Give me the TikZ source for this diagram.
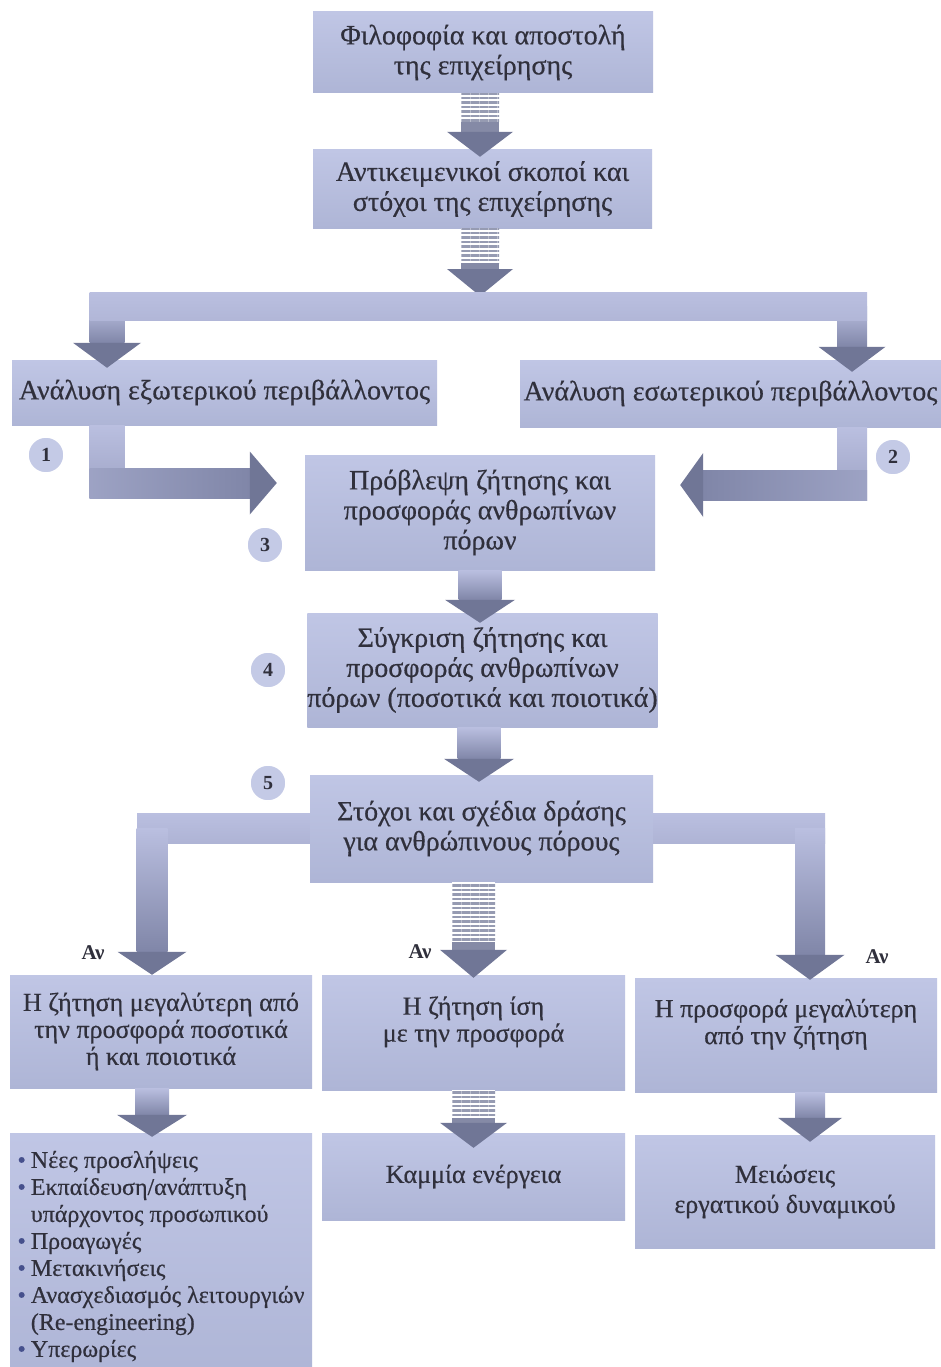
\documentclass[tikz,border=0pt]{standalone}
\usepackage{fontspec}
\setmainfont{Liberation Serif}
\newfontfamily\boxfont{Liberation Serif}[FakeBold=0.5]
\usetikzlibrary{calc,patterns.meta,backgrounds}
\definecolor{boxtop}{RGB}{192,198,229}
\definecolor{boxbot}{RGB}{174,181,214}
\definecolor{shtop}{RGB}{186,191,224}
\definecolor{shbot}{RGB}{128,134,168}
\definecolor{headc}{RGB}{112,118,150}
\definecolor{stripec}{RGB}{150,155,178}
\definecolor{txt}{RGB}{48,48,60}
\definecolor{circf}{RGB}{196,202,230}
\definecolor{bulc}{RGB}{70,80,140}
\tikzset{
 box/.style={rectangle, inner sep=0pt, top color=boxtop, bottom color=boxbot, text=txt, align=center, font=\boxfont\fontsize{28}{30}\selectfont},
 smallbox/.style={box, font=\boxfont\fontsize{26}{27}\selectfont},
 num/.style={circle, minimum size=36pt, inner sep=0pt, fill=circf, draw=white, line width=1.5pt, text=txt, font=\bfseries\fontsize{20}{20}\selectfont},
 cond/.style={text=txt, font=\bfseries\fontsize{21}{21}\selectfont, inner sep=0pt},
}
% vertical block arrow: #1 source, #2 tip, #3 half shaft, #4 half head, #5 head length
\newcommand\VArrow[5]{%
 \shade[top color=shtop,bottom color=shbot] let \p1=(#1),\p2=(#2) in (\x2-#3,\y1) rectangle (\x2+#3,\y2+#5);
 \fill[headc] let \p2=(#2) in (\x2,\y2) -- (\x2-#4,\y2+#5) -- (\x2+#4,\y2+#5) -- cycle;}
% striped block arrow: #6 solid length
\newcommand\SArrow[6]{%
 \fill[white] let \p1=(#1),\p2=(#2) in (\x2-#3,\y1) rectangle (\x2+#3,\y2+#5+#6);
 \path[pattern={Lines[angle=0,distance=4.5pt,line width=2.4pt]}, pattern color=stripec] let \p1=(#1),\p2=(#2) in (\x2-#3,\y1) rectangle (\x2+#3,\y2+#5+#6);
 \fill[headc!85!white] let \p2=(#2) in (\x2-#3,\y2+#5) rectangle (\x2+#3,\y2+#5+#6);
 \fill[headc] let \p2=(#2) in (\x2,\y2) -- (\x2-#4,\y2+#5) -- (\x2+#4,\y2+#5) -- cycle;}
\begin{document}
\begin{tikzpicture}[x=1pt,y=-1pt]
\useasboundingbox (0,0) rectangle (941,1367);
\clip (0,0) rectangle (941,1367);
% boxes
\node[box, minimum width=340pt, minimum height=81pt] (b1) at (483,52.5) {Φιλοφοφία και αποστολή\\της επιχείρησης};
\node[box, minimum width=339pt, minimum height=78pt] (b2) at (482.5,189) {Αντικειμενικοί σκοποί και\\στόχοι της επιχείρησης};
\node[box, minimum width=425pt, minimum height=65pt] (b3L) at (224.5,392.5) {Ανάλυση εξωτερικού περιβάλλοντος};
\node[box, minimum width=421pt, minimum height=67pt] (b3R) at (730.5,393.5) {Ανάλυση εσωτερικού περιβάλλοντος};
\node[box, minimum width=350pt, minimum height=115pt] (b4) at (480,512.5) {Πρόβλεψη ζήτησης και\\προσφοράς ανθρωπίνων\\πόρων};
\node[box, minimum width=345pt, minimum height=114pt] (b5) at (482.5,670) {Σύγκριση ζήτησης και\\προσφοράς ανθρωπίνων\\πόρων (ποσοτικά και ποιοτικά)};
\node[box, minimum width=343pt, minimum height=107pt] (b6) at (481.5,828.5) {Στόχοι και σχέδια δράσης\\για ανθρώπινους πόρους};
\node[smallbox, minimum width=302pt, minimum height=113pt] (b7L) at (161,1031.5) {Η ζήτηση μεγαλύτερη από\\την προσφορά ποσοτικά\\ή και ποιοτικά};
\node[smallbox, minimum width=303pt, minimum height=115pt] (b7M) at (473.5,1032.5) {Η ζήτηση ίση\\με την προσφορά\\\mbox{}};
\node[smallbox, minimum width=302pt, minimum height=114pt] (b7R) at (786,1035) {Η προσφορά μεγαλύτερη\\από την ζήτηση\\\mbox{}};
\node[smallbox, minimum width=302pt, minimum height=248pt, align=left, font=\boxfont\fontsize{24}{27}\selectfont] (b8L) at (161,1257) {%
\begin{tabular}{@{}l@{\hspace{5pt}}l@{}}
\textcolor{bulc}{•} & Νέες προσλήψεις\\
\textcolor{bulc}{•} & Εκπαίδευση/ανάπτυξη\\
 & υπάρχοντος προσωπικού\\
\textcolor{bulc}{•} & Προαγωγές\\
\textcolor{bulc}{•} & Μετακινήσεις\\
\textcolor{bulc}{•} & Ανασχεδιασμός λειτουργιών\\
 & (Re-engineering)\\
\textcolor{bulc}{•} & Υπερωρίες
\end{tabular}};
\node[smallbox, minimum width=303pt, minimum height=87pt] (b8M) at (473.5,1176.5) {Καμμία ενέργεια};
\node[smallbox, minimum width=300pt, minimum height=113pt, font=\boxfont\fontsize{26}{30}\selectfont] (b8R) at (785,1191.5) {Μειώσεις\\εργατικού δυναμικού};
% junction coordinates
\coordinate (jT) at (480,296);
\coordinate (jL) at (107,306);
\coordinate (jR) at (852,306);
\coordinate (jL2) at (152,828);
\coordinate (jR2) at (810,828);
% white page and branch bar behind box 6
\begin{scope}[on background layer]
\fill[white] (0,0) rectangle (941,1367);
\shade[top color=shtop, bottom color=shtop!80!shbot] ($(jL2)+(-15,-15)$) rectangle ($(jR2)+(15,15)$);
\end{scope}
% arrow 1
\SArrow{b1.south}{$(b2.north)+(-2.5,7)$}{19pt}{33pt}{25pt}{10pt}
% arrow 2 and T
\SArrow{b2.south}{jT}{19pt}{33pt}{27pt}{6pt}
\VArrow{jL}{$(b3L.north -| jL)+(0,8)$}{17.5pt}{34pt}{25pt}
\VArrow{jR}{$(b3R.north -| jR)+(0,12)$}{15pt}{33.5pt}{25pt}
\shade[top color=shtop, bottom color=shtop!85!shbot] ($(jL)+(-17.5,-14)$) rectangle ($(jR)+(15,14)$);
% L arrow from external analysis
\coordinate (t1) at ($(b4.west)+(-28,-29.5)$);
\shade[top color=shtop,bottom color=shtop!50!shbot] let \p1=(b3L.south -| jL),\p2=(t1) in (\x1-17.5pt,\y1) rectangle (\x1+17.5pt,\y2-15pt);
\shade[left color=shtop!50!shbot,right color=shbot] let \p1=(b3L.south -| jL),\p2=(t1) in (\x1-17.5pt,\y2+15pt) rectangle (\x2-27pt,\y2-15pt);
\fill[headc] let \p2=(t1) in (\x2,\y2) -- (\x2-27pt,\y2+31.5pt) -- (\x2-27pt,\y2-31.5pt) -- cycle;
% L arrow from internal analysis
\coordinate (t2) at ($(b4.east)+(25,-27.5)$);
\shade[top color=shtop,bottom color=shtop!50!shbot] let \p1=(b3R.south -| jR),\p2=(t2) in (\x1-15pt,\y1) rectangle (\x1+15pt,\y2-15pt);
\shade[right color=shtop!50!shbot,left color=shbot] let \p1=(b3R.south -| jR),\p2=(t2) in (\x1+15pt,\y2+15pt) rectangle (\x2+23pt,\y2-15pt);
\fill[headc] let \p2=(t2) in (\x2,\y2) -- (\x2+23pt,\y2+32pt) -- (\x2+23pt,\y2-32pt) -- cycle;
% arrows 4, 5
\VArrow{b4.south}{$(b5.north)+(-2.5,10)$}{21.5pt}{35pt}{23pt}
\VArrow{b5.south}{$(b6.north)+(-2.5,7)$}{21.5pt}{35pt}{23pt}
% branches
\VArrow{jL2}{b7L.north -| jL2}{15.5pt}{34.5pt}{23pt}
\VArrow{jR2}{$(b7R.north -| jR2)+(0,2)$}{15pt}{34.5pt}{25pt}
\SArrow{b6.south}{$(b7M.north)+(0,3)$}{21.5pt}{33.5pt}{28pt}{8pt}
% lower arrows
\VArrow{b7L.south -| jL2}{$(b8L.north -| jL2)+(0,4)$}{17pt}{35pt}{22pt}
\SArrow{b7M.south}{$(b8M.north)+(0,15)$}{21.5pt}{33.5pt}{25pt}{5pt}
\VArrow{b7R.south -| jR2}{$(b8R.north -| jR2)+(0,7)$}{15pt}{32pt}{24pt}
% labels
\node[cond] (a1) at (93,953) {Αν};
\node[cond] (a2) at (420,952) {Αν};
\node[cond] (a3) at (877,957) {Αν};
% numbers
\node[num] (n1) at (46,455) {1};
\node[num] (n2) at (893,457) {2};
\node[num] (n3) at (265,545) {3};
\node[num] (n4) at (268,670) {4};
\node[num] (n5) at (268,783) {5};
\end{tikzpicture}
\end{document}
